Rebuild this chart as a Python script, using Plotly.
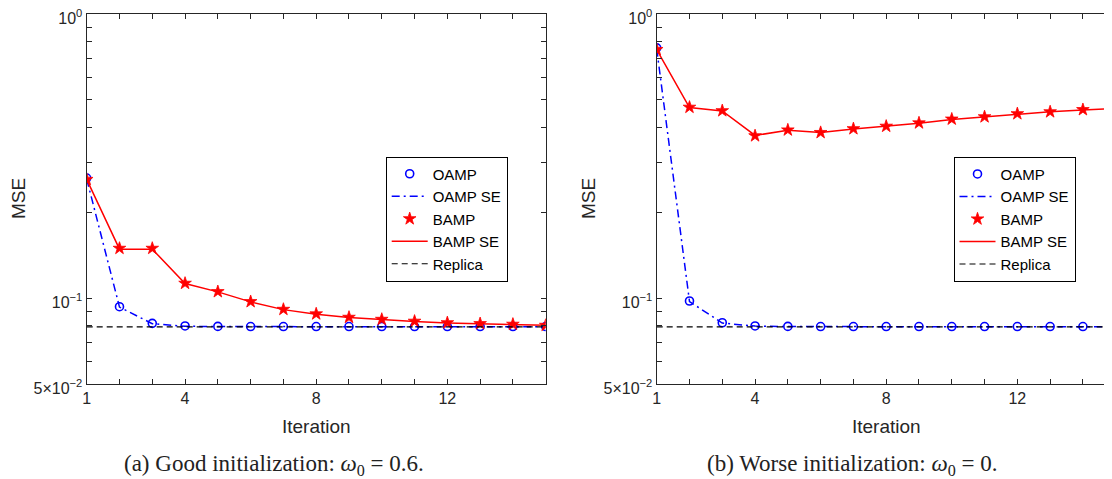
import plotly.graph_objects as go

# ---------------- data ----------------
iterations = list(range(1, 16))

# (a) Good initialization
oamp_a    = [0.265, 0.0935, 0.0817, 0.0800, 0.0797, 0.0796, 0.0796, 0.0796, 0.0796, 0.0796, 0.0796, 0.0796, 0.0796, 0.0796, 0.0796]
oamp_se_a = [0.263, 0.0932, 0.0815, 0.0798, 0.0796, 0.0795, 0.0795, 0.0795, 0.0795, 0.0795, 0.0795, 0.0795, 0.0795, 0.0795, 0.0795]
bamp_a    = [0.262, 0.150, 0.150, 0.113, 0.1056, 0.0974, 0.0915, 0.0882, 0.0858, 0.0844, 0.0831, 0.0821, 0.0815, 0.0811, 0.0804]
bamp_se_a = [0.262, 0.149, 0.149, 0.1128, 0.1054, 0.0972, 0.0913, 0.0880, 0.0857, 0.0842, 0.0830, 0.0820, 0.0814, 0.0810, 0.0804]

# (b) Worse initialization
oamp_b    = [0.760, 0.0979, 0.0821, 0.0800, 0.0797, 0.0796, 0.0796, 0.0796, 0.0796, 0.0796, 0.0796, 0.0796, 0.0796, 0.0796, 0.0796]
oamp_se_b = [0.755, 0.0975, 0.0819, 0.0799, 0.0796, 0.0795, 0.0795, 0.0795, 0.0795, 0.0795, 0.0795, 0.0795, 0.0795, 0.0795, 0.0795]
bamp_b    = [0.750, 0.470, 0.457, 0.373, 0.391, 0.383, 0.395, 0.403, 0.414, 0.427, 0.435, 0.446, 0.453, 0.461, 0.466]
bamp_se_b = [0.750, 0.469, 0.456, 0.374, 0.390, 0.383, 0.394, 0.403, 0.413, 0.426, 0.435, 0.445, 0.453, 0.460, 0.466]

replica_x = [1, 15]
replica_a = [0.0794, 0.0794]
replica_b = [0.0794, 0.0794]

x_tick_vals = list(range(1, 16))
x_tick_text = ["1", "", "", "4", "", "", "", "8", "", "", "", "12", "", "", ""]
y_tick_vals = [0.05, 0.06, 0.07, 0.08, 0.09, 0.1, 0.2, 0.3, 0.4, 0.5, 0.6, 0.7, 0.8, 0.9, 1]
y_tick_text = ["5×10<sup>−2</sup>", "", "", "", "", "10<sup>−1</sup>",
               "", "", "", "", "", "", "", "", "10<sup>0</sup>"]

captions = ["(a) Good initialization: <i>ω</i><sub>0</sub> = 0.6.",
            "(b) Worse initialization: <i>ω</i><sub>0</sub> = 0."]

# ---------------- figure ----------------
# the page body has an 8px default margin, so the figure is laid out in
# window pixels minus that offset
OFF = 8
W, H = 1112 - OFF, 479 - OFF
BLUE, RED = "#0000FF", "#FF0000"
AX = "#262626"
SANS = "Liberation Sans, Arial, sans-serif"

def px_x(v):
    return (v - OFF) / W

def px_y(v):
    return 1 - (v - OFF) / H

fig = go.Figure()

def add_panel(k, oamp, oamp_se, bamp, bamp_se, replica):
    xa = "x" if k == 1 else "x2"
    ya = "y" if k == 1 else "y2"
    lg = "legend" if k == 1 else "legend2"
    fig.add_trace(go.Scatter(x=iterations, y=oamp, mode="markers", name="OAMP",
                             marker=dict(symbol="circle-open", size=8, color=BLUE, line=dict(width=1.6, color=BLUE)),
                             xaxis=xa, yaxis=ya, legend=lg))
    fig.add_trace(go.Scatter(x=iterations, y=oamp_se, mode="lines", name="OAMP SE",
                             line=dict(color=BLUE, width=1.5, dash="8px,4px,2px,4px"),
                             xaxis=xa, yaxis=ya, legend=lg))
    fig.add_trace(go.Scatter(x=iterations, y=bamp, mode="markers", name="BAMP",
                             marker=dict(symbol="star", size=9.5, color=RED, line=dict(width=0.8, color=RED)),
                             xaxis=xa, yaxis=ya, legend=lg))
    fig.add_trace(go.Scatter(x=iterations, y=bamp_se, mode="lines", name="BAMP SE",
                             line=dict(color=RED, width=1.5),
                             xaxis=xa, yaxis=ya, legend=lg))
    fig.add_trace(go.Scatter(x=replica_x, y=replica, mode="lines", name="Replica",
                             line=dict(color="black", width=1.1, dash="6px,4px"),
                             xaxis=xa, yaxis=ya, legend=lg))

add_panel(1, oamp_a, oamp_se_a, bamp_a, bamp_se_a, replica_a)
add_panel(2, oamp_b, oamp_se_b, bamp_b, bamp_se_b, replica_b)

# pixel geometry (window coordinates of the reference)
top_px, bot_px = 14, 384
left1, right1 = 86.7, 545.7
left2 = 656.7
px_per_unit = (right1 - left1) / 14.0
x2_end = 1 + (1112 - left2) / px_per_unit

ydom = [px_y(bot_px), px_y(top_px)]

def xaxis_cfg(domain, rng, anchor):
    return dict(domain=domain, range=rng, tickmode="array", tickvals=x_tick_vals, ticktext=x_tick_text,
                ticks="inside", ticklen=5, tickwidth=1, tickcolor=AX,
                showline=True, linecolor=AX, linewidth=1.3, mirror="allticks",
                showgrid=False, zeroline=False, anchor=anchor, automargin=False,
                ticklabeloverflow="allow",
                tickfont=dict(family=SANS, size=16, color=AX))

def yaxis_cfg(anchor, mirror):
    return dict(domain=ydom, type="log", range=[-1.30103, 0], tickmode="array",
                tickvals=y_tick_vals, ticktext=y_tick_text,
                ticks="inside", ticklen=5, tickwidth=1, tickcolor=AX,
                showline=True, linecolor=AX, linewidth=1.3, mirror=mirror,
                showgrid=False, zeroline=False, anchor=anchor, automargin=False,
                ticklabeloverflow="allow", ticklabelshift=4,
                tickfont=dict(family=SANS, size=16, color=AX))

legend_common = dict(xanchor="left", yanchor="top", bordercolor="black", borderwidth=1,
                     bgcolor="white", font=dict(family=SANS, size=15, color="black"),
                     tracegroupgap=0, itemwidth=36, xref="paper", yref="paper")

fig.update_layout(
    width=W, height=H, margin=dict(l=0, r=0, t=0, b=0, pad=0, autoexpand=False),
    paper_bgcolor="white", plot_bgcolor="white",
    xaxis=xaxis_cfg([px_x(left1), px_x(right1)], [1, 15], "y"),
    yaxis=yaxis_cfg("x", "allticks"),
    xaxis2=xaxis_cfg([px_x(left2), 1.0], [1, x2_end], "y2"),
    yaxis2=yaxis_cfg("x2", False),
    legend=dict(x=px_x(385.7), y=px_y(156.5), **legend_common),
    legend2=dict(x=px_x(953.5), y=px_y(156.7), **legend_common),
    showlegend=True,
)

annots = []
for cx in [(left1 + right1) / 2, left2 + (right1 - left1) / 2]:
    annots.append(dict(text="Iteration", x=px_x(cx), y=px_y(426.5), xref="paper", yref="paper",
                       showarrow=False, xanchor="center", yanchor="middle",
                       font=dict(family=SANS, size=19, color=AX)))
for cx in [18, 588]:
    annots.append(dict(text="MSE", x=px_x(cx), y=px_y(199), xref="paper", yref="paper",
                       showarrow=False, xanchor="center", yanchor="middle", textangle=-90,
                       font=dict(family=SANS, size=19, color=AX)))
for cx, txt in zip([274, 852], captions):
    annots.append(dict(text=txt, x=px_x(cx), y=px_y(465), xref="paper", yref="paper",
                       showarrow=False, xanchor="center", yanchor="middle",
                       font=dict(family="Liberation Serif, Times New Roman, serif", size=23, color="#222222")))
fig.update_layout(annotations=annots)

fig.write_html("out.html")
